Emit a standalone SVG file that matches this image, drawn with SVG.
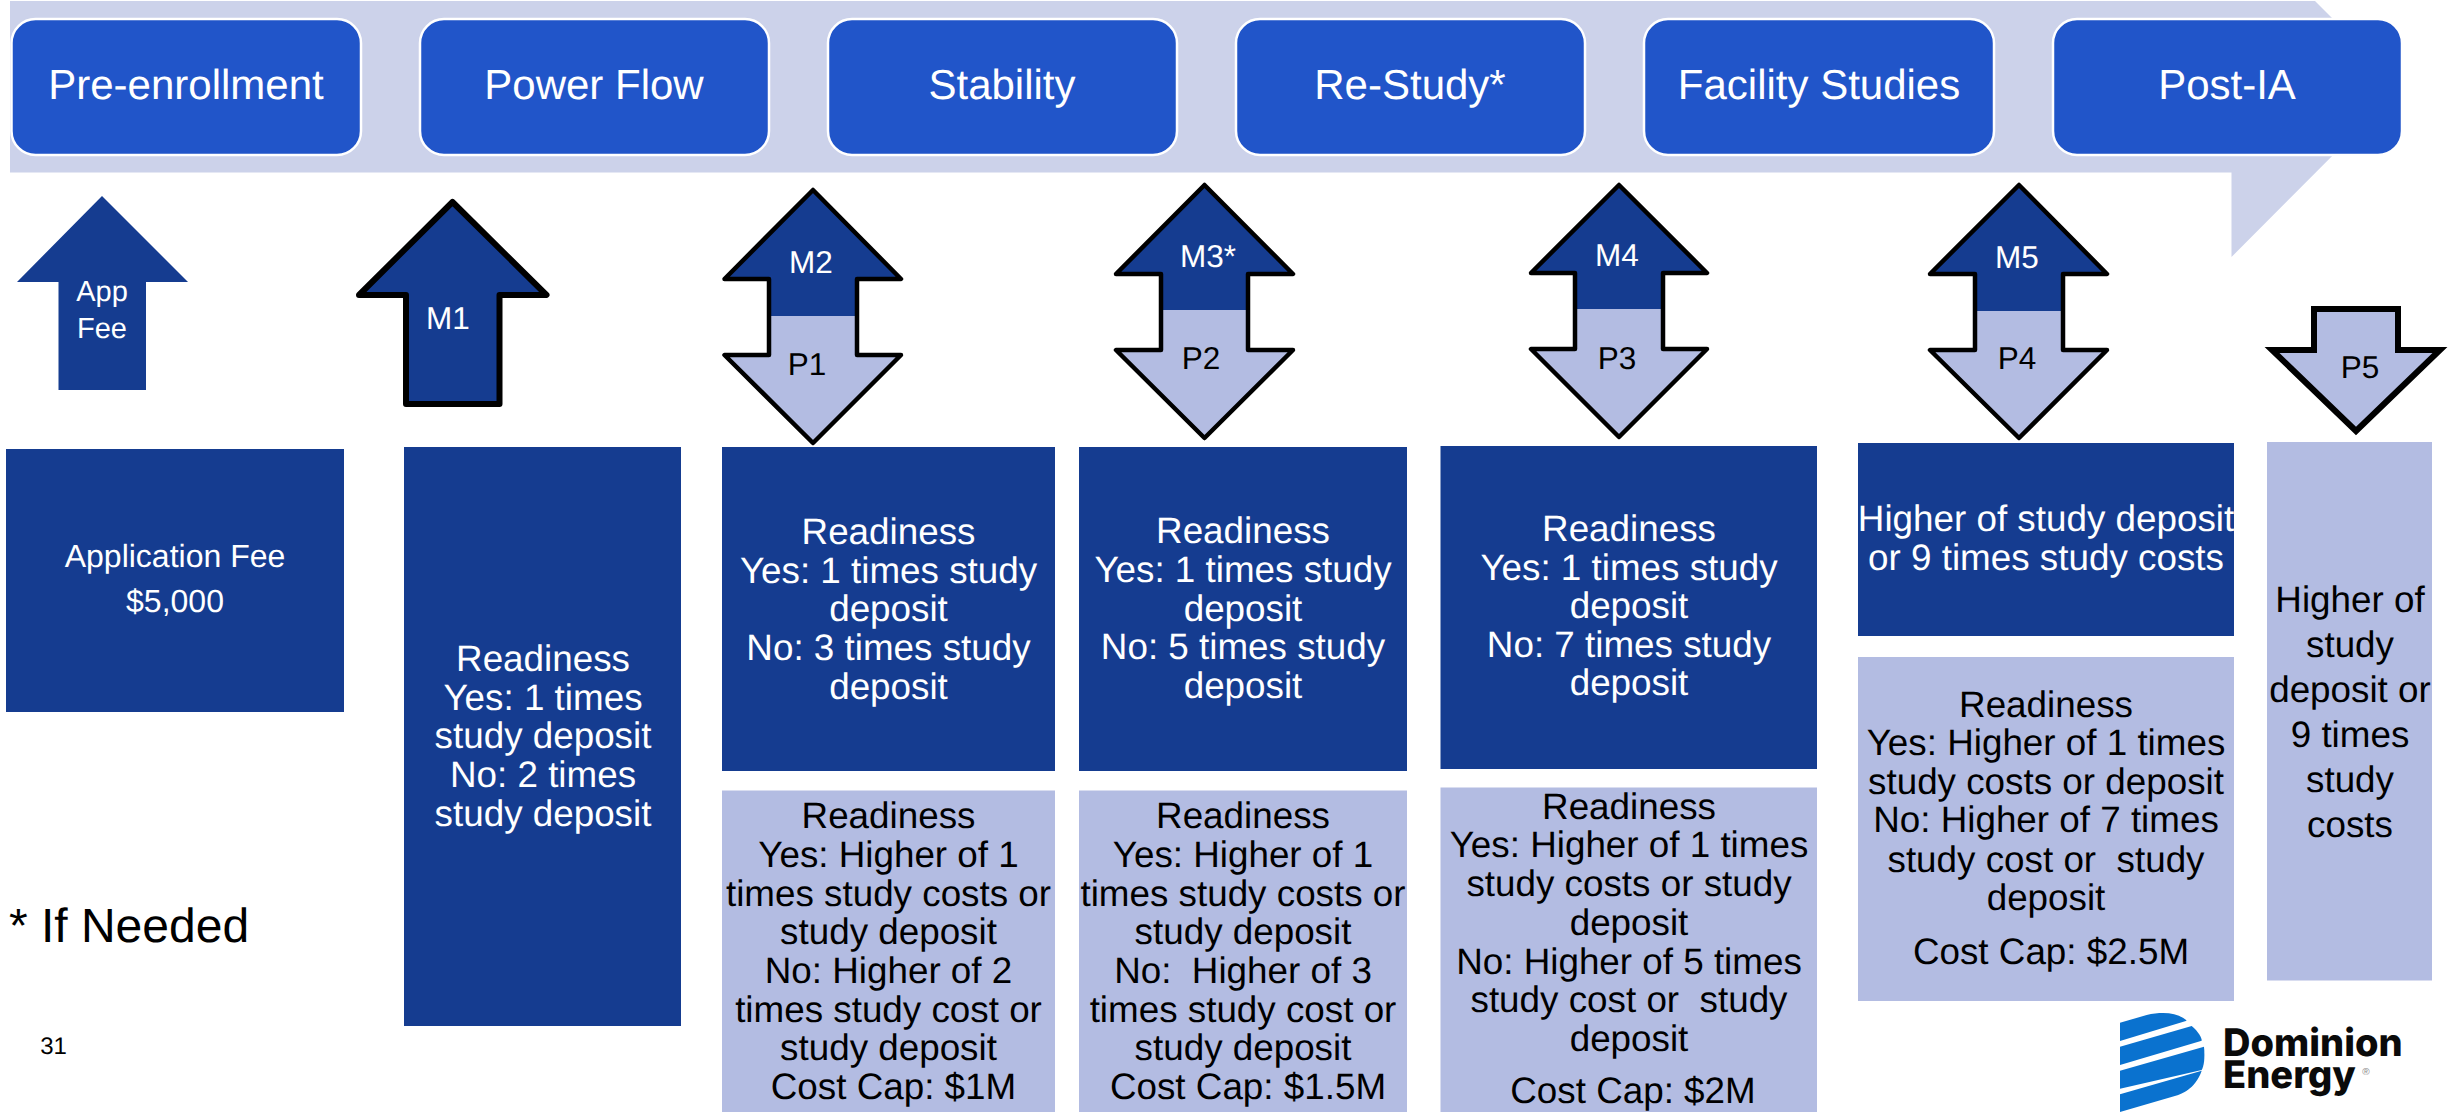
<svg xmlns="http://www.w3.org/2000/svg" width="2453" height="1112" viewBox="0 0 2453 1112">
<style>
text{font-family:"Liberation Sans",Arial,sans-serif;text-anchor:middle;white-space:pre;text-rendering:geometricPrecision}
.stage{fill:#2155c9;stroke:#fff;stroke-width:2.5}
.stext{font-size:42px;fill:#fff}
.dark{fill:#153c90}
.light{fill:#b3bce2}
.w{fill:#fff}
.k{fill:#000}
.b{font-size:36.8px}
.a{font-size:31.5px}
.o{fill:none;stroke:#000;stroke-width:4.5;stroke-linejoin:round}
.logo{fill:#0a72cf}
.lt{font-family:Inter,"Liberation Sans",sans-serif;font-weight:800;font-size:38px;fill:#0a0a0a;text-anchor:start}
</style>
<rect width="2453" height="1112" fill="#fff"/>
<path id="band" d="M10 1H2315L2401 87L2231.5 257V172.5H10Z" fill="#ccd2ea"/>

<g id="stage-pre-enrollment"><rect class="stage" x="11.5" y="19" width="349.500" height="136" rx="24"/><text class="stext" x="186" y="99">Pre-enrollment</text></g>
<g id="stage-power-flow"><rect class="stage" x="420" y="19" width="349" height="136" rx="24"/><text class="stext" x="594" y="99">Power Flow</text></g>
<g id="stage-stability"><rect class="stage" x="828" y="19" width="349" height="136" rx="24"/><text class="stext" x="1002" y="99">Stability</text></g>
<g id="stage-re-study"><rect class="stage" x="1236" y="19" width="349" height="136" rx="24"/><text class="stext" x="1410" y="99">Re-Study*</text></g>
<g id="stage-facility"><rect class="stage" x="1644" y="19" width="350" height="136" rx="24"/><text class="stext" x="1819" y="99">Facility Studies</text></g>
<g id="stage-post-ia"><rect class="stage" x="2053" y="19" width="349" height="136" rx="24"/><text class="stext" x="2227" y="99">Post-IA</text></g>

<g id="arrow-app-fee"><path class="dark" d="M102 196L188 282H146V390H58.500V282H17Z"/><text class="w" font-size="29" x="102" y="301">App</text><text class="w" font-size="29" x="102" y="338">Fee</text></g>
<g id="arrow-m1"><path class="dark" d="M452.500 202L546.500 295H499.500V404H406V295H359Z" stroke="#000" stroke-width="6" stroke-linejoin="round"/><text class="w a" x="448" y="329">M1</text></g>

<g id="arrow-m2-p1">
<path class="dark" d="M813 190L901 279H857V316H769V279H724.500Z"/>
<path class="light" d="M769 316H857V355H901L813 443L724.500 355H769Z"/>
<path class="o" d="M813 190L901 279H857V355H901L813 443L724.500 355H769V279H724.500Z"/>
<text class="w a" x="811" y="273">M2</text><text class="k a" x="807" y="375">P1</text></g>

<g id="arrow-m3-p2">
<path class="dark" d="M1204.500 185L1293 274H1248V310H1161V274H1116Z"/>
<path class="light" d="M1161 310H1248V350H1293L1204.500 438L1116 350H1161Z"/>
<path class="o" d="M1204.500 185L1293 274H1248V350H1293L1204.500 438L1116 350H1161V274H1116Z"/>
<text class="w a" x="1208" y="267">M3*</text><text class="k a" x="1201" y="369">P2</text></g>

<g id="arrow-m4-p3">
<path class="dark" d="M1619 185L1707 273H1663V309H1575V273H1531Z"/>
<path class="light" d="M1575 309H1663V349H1707L1619 437L1531 349H1575Z"/>
<path class="o" d="M1619 185L1707 273H1663V349H1707L1619 437L1531 349H1575V273H1531Z"/>
<text class="w a" x="1617" y="266">M4</text><text class="k a" x="1617" y="369">P3</text></g>

<g id="arrow-m5-p4">
<path class="dark" d="M2019 185L2107 274H2063V311H1975V274H1930Z"/>
<path class="light" d="M1975 311H2063V350H2107L2019 438L1930 350H1975Z"/>
<path class="o" d="M2019 185L2107 274H2063V350H2107L2019 438L1930 350H1975V274H1930Z"/>
<text class="w a" x="2017" y="268">M5</text><text class="k a" x="2017" y="369">P4</text></g>

<g id="arrow-p5"><path class="light" d="M2314 309H2398V350H2440L2356 431L2272 350H2314Z" stroke="#000" stroke-width="6"/><text class="k a" x="2360" y="378">P5</text></g>

<g id="box-app-fee"><rect class="dark" x="6" y="449" width="338" height="263"/><text class="w" font-size="32" x="175" y="567">Application Fee</text><text class="w" font-size="32" x="175" y="612">$5,000</text></g>

<g id="box-m1"><rect class="dark" x="404" y="447" width="277" height="579"/>
<text class="w b"><tspan x="543" y="671">Readiness</tspan><tspan x="543" y="709.500">Yes: 1 times</tspan><tspan x="543" y="748">study deposit</tspan><tspan x="543" y="787">No: 2 times</tspan><tspan x="543" y="826">study deposit</tspan></text></g>

<g id="box-m2"><rect class="dark" x="722" y="447" width="333" height="324"/>
<text class="w b"><tspan x="888.500" y="544">Readiness</tspan><tspan x="888.500" y="582.500">Yes: 1 times study</tspan><tspan x="888.500" y="621">deposit</tspan><tspan x="888.500" y="660">No: 3 times study</tspan><tspan x="888.500" y="698.500">deposit</tspan></text></g>
<g id="box-p1"><rect class="light" x="722" y="790.500" width="333" height="321.500"/>
<text class="k b"><tspan x="888.500" y="828">Readiness</tspan><tspan x="888.500" y="866.500">Yes: Higher of 1</tspan><tspan x="888.500" y="905.500">times study costs or</tspan><tspan x="888.500" y="944">study deposit</tspan><tspan x="888.500" y="983">No: Higher of 2</tspan><tspan x="888.500" y="1021.500">times study cost or</tspan><tspan x="888.500" y="1060">study deposit</tspan><tspan x="893.500" y="1099">Cost Cap: $1M</tspan></text></g>

<g id="box-m3"><rect class="dark" x="1079" y="447" width="328" height="324"/>
<text class="w b"><tspan x="1243" y="543">Readiness</tspan><tspan x="1243" y="582">Yes: 1 times study</tspan><tspan x="1243" y="621">deposit</tspan><tspan x="1243" y="659">No: 5 times study</tspan><tspan x="1243" y="698">deposit</tspan></text></g>
<g id="box-p2"><rect class="light" x="1079" y="790.500" width="328" height="321.500"/>
<text class="k b"><tspan x="1243" y="828">Readiness</tspan><tspan x="1243" y="866.500">Yes: Higher of 1</tspan><tspan x="1243" y="905.500">times study costs or</tspan><tspan x="1243" y="944">study deposit</tspan><tspan x="1243" y="983">No:  Higher of 3</tspan><tspan x="1243" y="1021.500">times study cost or</tspan><tspan x="1243" y="1060">study deposit</tspan><tspan x="1248" y="1099">Cost Cap: $1.5M</tspan></text></g>

<g id="box-m4"><rect class="dark" x="1440.500" y="446" width="376.500" height="323"/>
<text class="w b"><tspan x="1629" y="541">Readiness</tspan><tspan x="1629" y="579.500">Yes: 1 times study</tspan><tspan x="1629" y="618">deposit</tspan><tspan x="1629" y="656.500">No: 7 times study</tspan><tspan x="1629" y="695">deposit</tspan></text></g>
<g id="box-p3"><rect class="light" x="1440.500" y="787.500" width="376.500" height="324.500"/>
<text class="k b"><tspan x="1629" y="818.500">Readiness</tspan><tspan x="1629" y="857">Yes: Higher of 1 times</tspan><tspan x="1629" y="896">study costs or study</tspan><tspan x="1629" y="935">deposit</tspan><tspan x="1629" y="973.500">No: Higher of 5 times</tspan><tspan x="1629" y="1012">study cost or  study</tspan><tspan x="1629" y="1051">deposit</tspan><tspan x="1633" y="1103">Cost Cap: $2M</tspan></text></g>

<g id="box-m5"><rect class="dark" x="1858" y="443" width="376" height="193"/>
<text class="w b"><tspan x="2046" y="531">Higher of study deposit</tspan><tspan x="2046" y="569.500">or 9 times study costs</tspan></text></g>
<g id="box-p4"><rect class="light" x="1858" y="657" width="376" height="344"/>
<text class="k b"><tspan x="2046" y="716.500">Readiness</tspan><tspan x="2046" y="755">Yes: Higher of 1 times</tspan><tspan x="2046" y="793.500">study costs or deposit</tspan><tspan x="2046" y="832">No: Higher of 7 times</tspan><tspan x="2046" y="871.500">study cost or  study</tspan><tspan x="2046" y="910">deposit</tspan><tspan x="2051" y="964">Cost Cap: $2.5M</tspan></text></g>

<g id="box-p5"><rect class="light" x="2267" y="442" width="165" height="538.500"/>
<text class="k b"><tspan x="2350" y="612">Higher of</tspan><tspan x="2350" y="657">study</tspan><tspan x="2350" y="702">deposit or</tspan><tspan x="2350" y="747">9 times</tspan><tspan x="2350" y="792">study</tspan><tspan x="2350" y="836.500">costs</tspan></text></g>

<text id="note" class="k" font-size="48" x="129" y="941.500">* If Needed</text>
<text id="page" class="k" font-size="24" x="53.500" y="1054">31</text>

<g id="logo">
<path class="logo" d="M2120 1022.700L2146.700 1015C2163 1011.500 2178 1012.500 2186.700 1020.700L2120 1041Z"/>
<path class="logo" d="M2120 1046.700L2191.700 1026C2198 1031 2202 1038 2201.700 1040.700L2120 1065Z"/>
<path class="logo" d="M2120 1070.700L2204 1046.700C2205 1058 2204 1066 2201.700 1070L2120 1088.700Z"/>
<path class="logo" d="M2120 1094.300L2201.700 1070.700C2195 1090 2180 1094 2178.300 1095L2120 1112Z"/>
<text class="lt" x="2223" y="1056">Dominion</text>
<text class="lt" x="2223" y="1088">Energy</text>
<text x="2366" y="1075" font-size="10" fill="#888">®</text>
</g>
</svg>
